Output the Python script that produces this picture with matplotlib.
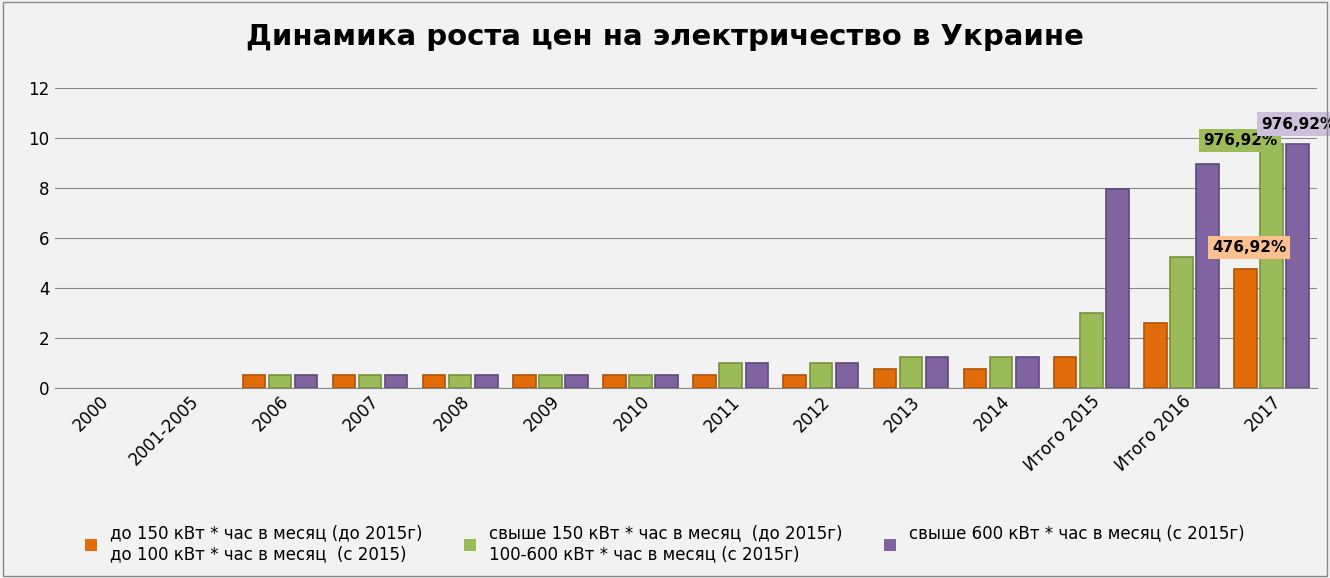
import numpy as np
import matplotlib.pyplot as plt

categories = ['2000', '2001-2005', '2006', '2007', '2008', '2009', '2010', '2011',
              '2012', '2013', '2014', 'Итого 2015', 'Итого 2016', '2017']
orange = [0, 0, 0.5, 0.5, 0.5, 0.5, 0.5, 0.5, 0.5, 0.75, 0.75, 1.25, 2.6, 4.77]
green = [0, 0, 0.5, 0.5, 0.5, 0.5, 0.5, 1.0, 1.0, 1.25, 1.25, 3.0, 5.25, 9.77]
purple = [0, 0, 0.5, 0.5, 0.5, 0.5, 0.5, 1.0, 1.0, 1.25, 1.25, 7.95, 8.95, 9.77]
labels = ['до 150 кВт * час в месяц (до 2015г)\nдо 100 кВт * час в месяц  (с 2015)',
          'свыше 150 кВт * час в месяц  (до 2015г)\n100-600 кВт * час в месяц (с 2015г)',
          'свыше 600 кВт * час в месяц (с 2015г)\n ']

fig = plt.figure(figsize=(13.3, 5.78), dpi=100, facecolor='#f2f2f2')
ax = fig.add_axes([0.041, 0.329, 0.949, 0.519])
ax.set_facecolor('#f2f2f2')
x = np.arange(len(categories))
w = 0.25
series = [(orange, '#e36c0a', '#b0520a'), (green, '#9bbb59', '#76923c'), (purple, '#8064a2', '#5f497a')]
for i, (vals, c, ec) in enumerate(series):
    v = np.array(vals, dtype=float)
    ax.bar(x + (i - 1) * 0.29, v, w, color=c, edgecolor=[ec if t > 0 else 'none' for t in v],
           linewidth=1.2, label=labels[i])

ax.set_ylim(0, 12)
ax.set_xlim(-0.5, len(categories) - 0.5)
ax.set_yticks(range(0, 13, 2))
ax.yaxis.grid(True, color='#888888', linewidth=0.8)
ax.set_axisbelow(True)
for s in ['top', 'right', 'left']:
    ax.spines[s].set_visible(False)
ax.spines['bottom'].set_color('#888888')
ax.tick_params(axis='both', length=0, labelsize=12)
ax.set_xticks(x)
ax.set_xticklabels(categories, rotation=45, ha='right', rotation_mode='anchor')

ax.text(12.65, 9.9, '976,92%', ha='center', va='center', fontsize=11, fontweight='bold',
        bbox=dict(facecolor='#9bbb59', edgecolor='none', pad=3))
ax.text(13.3, 10.55, '976,92%', ha='center', va='center', fontsize=11, fontweight='bold',
        bbox=dict(facecolor='#ccc0da', edgecolor='none', pad=3))
ax.text(12.75, 5.6, '476,92%', ha='center', va='center', fontsize=11, fontweight='bold',
        bbox=dict(facecolor='#fac090', edgecolor='none', pad=3))

fig.suptitle('Динамика роста цен на электричество в Украине', y=0.96, fontsize=21, fontweight='bold')
fig.legend(loc='lower center', bbox_to_anchor=(0.5, 0.0), ncol=3, frameon=False, fontsize=12,
           handlelength=0.7, handleheight=0.7, columnspacing=2.5)
fig.patches.append(plt.Rectangle((0.002, 0.003), 0.996, 0.994, transform=fig.transFigure,
                                 fill=False, edgecolor='#888888', linewidth=1))
fig.savefig('out.png', dpi=100, facecolor=fig.get_facecolor())
